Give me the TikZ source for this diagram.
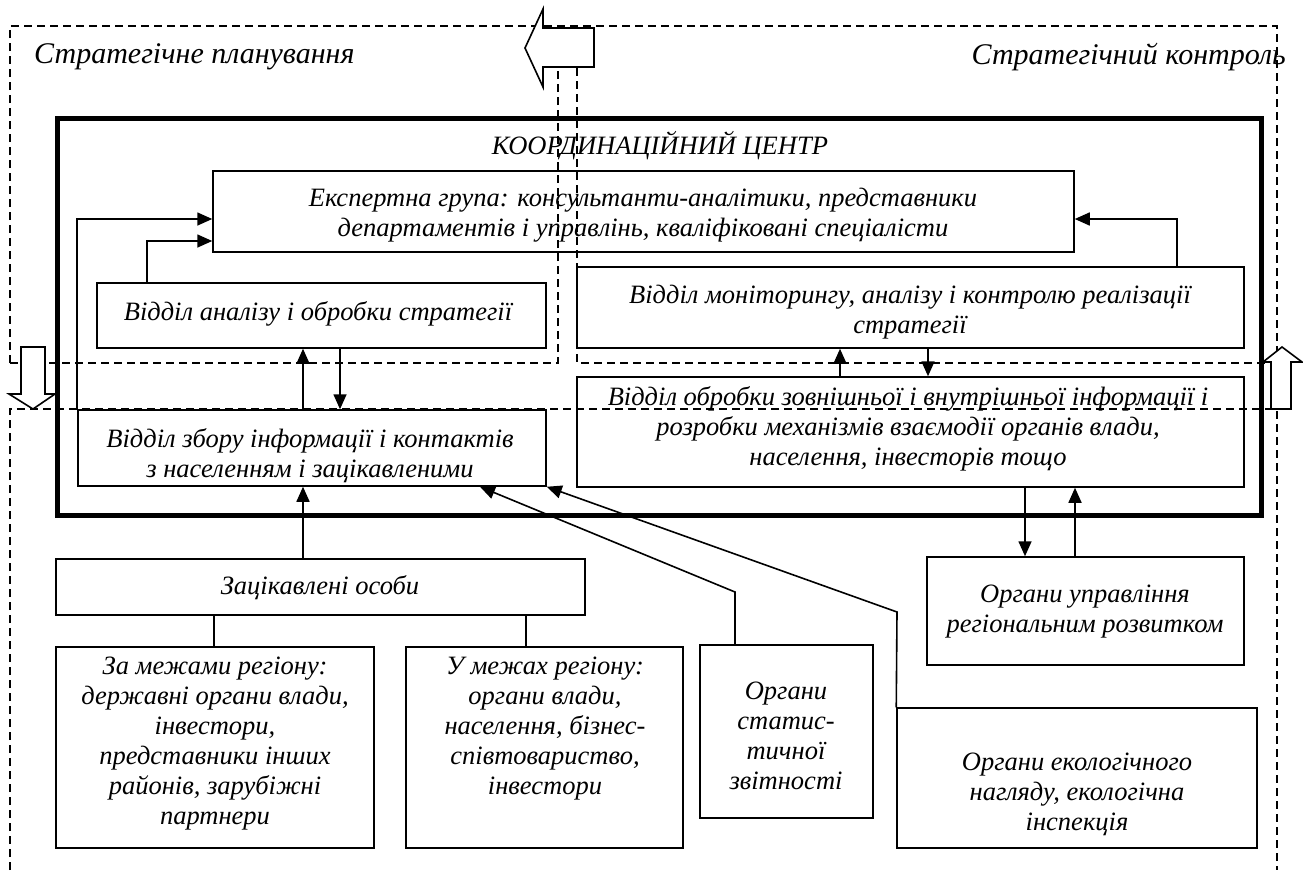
\documentclass[tikz,border=0pt]{standalone}
\usepackage{fontspec}
\setmainfont{Liberation Serif}
\usetikzlibrary{arrows.meta,fit}
\begin{document}
\begin{tikzpicture}[x=1pt,y=-1pt,
  every node/.style={font=\fontsize{26.5}{30}\selectfont\itshape},
  box/.style={draw,line width=1.5pt,inner sep=0pt},
  centrebox/.style={draw,line width=5pt,inner sep=0pt},
  txt/.style={align=center,inner sep=0pt},
  arealabel/.style={inner sep=0pt,font=\fontsize{30}{34}\selectfont\itshape},
  link/.style={line width=1.6pt},
  arr/.style={line width=1.6pt,-{Triangle[length=15pt,width=13pt]}},
  dashline/.style={line width=1.4pt,dash pattern=on 8pt off 5pt},
  blockarrow/.style={draw,line width=1.6pt,fill=white,line join=miter}]
\useasboundingbox (0,0) rectangle (1303,876);

% coordination centre frame
\node[centrebox,fit={(57,118) (1261,515)}] (centre) {};
\node[txt] (centreT) at (660,146) {КООРДИНАЦІЙНИЙ ЦЕНТР};

% boxes inside the centre
\node[box,fit={(213,171) (1074,252)}] (expert) {};
\node[txt] (expertT) at (643,215) {Експертна група: консультанти-аналітики, представники\\департаментів і управлінь, кваліфіковані спеціалісти};
\node[box,fit={(97,283) (546,348)}] (analiz) {};
\node[txt] (analizT) at (318,314) {Відділ аналізу і обробки стратегії};
\node[box,fit={(577,267) (1244,348)}] (monit) {};
\node[txt] (monitT) at (910,312) {Відділ моніторингу, аналізу і контролю реалізації\\стратегії};
\node[box,fit={(577,377) (1244,487)}] (obrob) {};
\node[txt] (obrobT) at (908,429) {Відділ обробки зовнішньої і внутрішньої інформації і\\розробки механізмів взаємодії органів влади,\\населення, інвесторів тощо};
\node[box,fit={(78,410) (546,486)}] (zbir) {};
\node[txt] (zbirT) at (310,456) {Відділ збору інформації і контактів\\з населенням і зацікавленими};

% outside boxes
\node[box,fit={(56,559) (585,615)}] (zatsik) {};
\node[txt] (zatsikT) at (320,588) {Зацікавлені особи};
\node[box,fit={(56,647) (374,848)}] (zamezh) {};
\node[txt] (zamezhT) at (215,744) {За межами регіону:\\державні органи влади,\\інвестори,\\представники інших\\районів, зарубіжні\\партнери};
\node[box,fit={(406,647) (683,848)}] (umezh) {};
\node[txt] (umezhT) at (545,729) {У межах регіону:\\органи влади,\\населення, бізнес-\\співтовариство,\\інвестори};
\node[box,fit={(700,645) (873,818)}] (stat) {};
\node[txt] (statT) at (786,736) {Органи\\статис-\\тичної\\звітності};
\node[box,fit={(897,708) (1257,848)}] (eco) {};
\node[txt] (ecoT) at (1077,794) {Органи екологічного\\нагляду, екологічна\\інспекція};
\node[box,fit={(927,557) (1244,665)}] (upr) {};
\node[txt] (uprT) at (1085,612) {Органи управління\\регіональним розвитком};

% connectors
\draw[arr] (zbir.north west) |- (expert.west |- 0,219);
\draw[arr] (analiz.north west -| 147,0) |- (expert.west |- 0,241);
\draw[arr] (monit.north -| 1177,0) |- (expert.east |- 0,219);
\draw[arr] (zbir.north -| 303,0) -- (analiz.south -| 303,0);
\draw[arr] (analiz.south -| 340,0) -- (zbir.north -| 340,0);
\draw[arr] (obrob.north -| 840,0) -- (monit.south -| 840,0);
\draw[arr] (monit.south -| 928,0) -- (obrob.north -| 928,0);
\draw[arr] (zatsik.north -| 303,0) -- (zbir.south -| 303,0);
\draw[link] (zatsik.south -| 214,0) -- (zamezh.north -| 214,0);
\draw[link] (zatsik.south -| 526,0) -- (umezh.north -| 526,0);
\coordinate (statbend) at (735,592);
\coordinate (ecobend) at (897,612);
\draw[arr] (stat.north -| statbend) -- (statbend) -- (zbir.south -| 480,0);
\draw[arr] (eco.north west) -- (ecobend) -- (zbir.south east);
\draw[arr] (obrob.south -| 1025,0) -- (upr.north -| 1025,0);
\draw[arr] (upr.north -| 1075,0) -- (obrob.south -| 1075,0);

% planning / control areas
\node[arealabel,anchor=west] (planT) at (34,57) {Стратегічне планування};
\node[arealabel,anchor=east] (controlT) at (1286,57) {Стратегічний контроль};
\draw[dashline] (10,363) -- (10,26) -- (1277,26) -- (1277,870);
\draw[dashline] (10,363) -- (558,363) -- (558,68);
\draw[dashline] (577,68) -- (577,363) -- (1277,363);
\draw[dashline] (10,870) -- (10,409) -- (1277,409);

% block arrows
\draw[blockarrow] (594,28) -- (543,28) -- (543,9) -- (525,48) -- (543,87) -- (543,67) -- (594,67) -- cycle;
\draw[blockarrow] (21,347) -- (45,347) -- (45,394) -- (55,394) -- (33,409) -- (9,394) -- (21,394) -- cycle;
\draw[blockarrow] (1271,409) -- (1271,362) -- (1263,362) -- (1282,347) -- (1302,362) -- (1291,362) -- (1291,409) -- cycle;
\end{tikzpicture}
\end{document}
